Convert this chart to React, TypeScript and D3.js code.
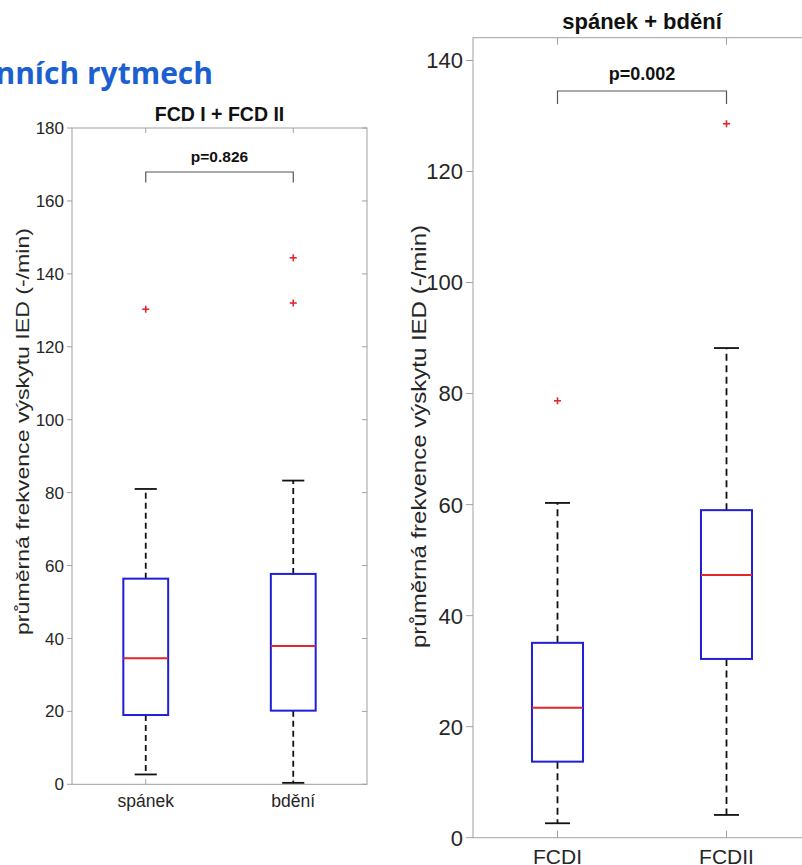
import React from "react";
import * as d3 from "d3";

// ---------- data ----------
const leftCategories = ["spánek", "bdění"];
const leftLowWhisker = [2.7, 0.4];
const leftQ1 = [19.0, 20.2];
const leftMedian = [34.6, 37.9];
const leftQ3 = [56.4, 57.7];
const leftHighWhisker = [81.0, 83.3];
const leftOutliers = [[130.3], [144.4, 132.0]];
const leftTicks = [0, 20, 40, 60, 80, 100, 120, 140, 160, 180];
const leftTitle = "FCD I + FCD II";
const leftP = "p=0.826";

const rightCategories = ["FCDI", "FCDII"];
const rightLowWhisker = [2.6, 4.1];
const rightQ1 = [13.7, 32.2];
const rightMedian = [23.4, 47.3];
const rightQ3 = [35.1, 59.0];
const rightHighWhisker = [60.3, 88.2];
const rightOutliers = [[78.7], [128.6]];
const rightTicks = [0, 20, 40, 60, 80, 100, 120, 140];
const rightTitle = "spánek + bdění";
const rightP = "p=0.002";

const yLabel = "průměrná frekvence výskytu IED (-/min)";
const slideTitle = "nních rytmech";

const FONT = "'Liberation Sans', Arial, Helvetica, sans-serif";

type PanelProps = {
  x0: number; x1: number; yTop: number; yBottom: number; yMax: number;
  cats: string[]; low: number[]; q1: number[]; med: number[]; q3: number[]; high: number[];
  outliers: number[][]; ticks: number[]; title: string; p: string;
  tickFont: number; catFont: number; titleFont: number; pFont: number;
  titleY: number; pY: number; bracketY: number; bracketLeg: number;
  catY: number; labelX: number; labelCenter: number; labelLen: number; labelFont: number;
  tickLen: number; innerTick: number; dash: string; capHalf: number; boxHalf: number;
};

function Panel(pr: PanelProps) {
  const x = d3.scaleLinear().domain([0.5, pr.cats.length + 0.5]).range([pr.x0, pr.x1]);
  const y = d3.scaleLinear().domain([0, pr.yMax]).range([pr.yBottom, pr.yTop]);
  const axisColor = "#a0a0a0";
  const textColor = "#262626";
  const unit = x(1) - x(0);
  const boxW = unit * pr.boxHalf;
  const capW = unit * pr.capHalf;
  return (
    <g>
      {/* box */}
      <rect x={pr.x0} y={pr.yTop} width={pr.x1 - pr.x0} height={pr.yBottom - pr.yTop}
        fill="none" stroke={axisColor} strokeWidth={1} />
      {/* y ticks */}
      {pr.ticks.map((t) => (
        <g key={"t" + t}>
          <line x1={pr.x0 - pr.tickLen} x2={pr.x0} y1={y(t)} y2={y(t)} stroke={axisColor} />
          <line x1={pr.x1 - pr.innerTick} x2={pr.x1} y1={y(t)} y2={y(t)} stroke={axisColor} />
          <text x={pr.x0 - pr.tickLen - 3} y={y(t)} dy="0.36em" textAnchor="end"
            fontFamily={FONT} fontSize={pr.tickFont} fill={textColor}>{t}</text>
        </g>
      ))}
      {/* x ticks */}
      {pr.cats.map((c, i) => (
        <g key={"c" + c}>
          <line x1={x(i + 1)} x2={x(i + 1)} y1={pr.yBottom} y2={pr.yBottom - pr.innerTick} stroke={axisColor} />
          <line x1={x(i + 1)} x2={x(i + 1)} y1={pr.yTop} y2={pr.yTop + pr.innerTick} stroke={axisColor} />
          <text x={x(i + 1)} y={pr.catY} textAnchor="middle" fontFamily={FONT}
            fontSize={pr.catFont} fill={textColor}>{c}</text>
        </g>
      ))}
      {/* boxplots */}
      {pr.cats.map((c, i) => {
        const cx = x(i + 1);
        return (
          <g key={"b" + c}>
            <line x1={cx} x2={cx} y1={y(pr.q3[i])} y2={y(pr.high[i])} stroke="#111"
              strokeWidth={1.8} strokeDasharray={pr.dash} />
            <line x1={cx} x2={cx} y1={y(pr.q1[i])} y2={y(pr.low[i])} stroke="#111"
              strokeWidth={1.8} strokeDasharray={pr.dash} />
            <line x1={cx - capW} x2={cx + capW} y1={y(pr.high[i])} y2={y(pr.high[i])} stroke="#111" strokeWidth={1.8} />
            <line x1={cx - capW} x2={cx + capW} y1={y(pr.low[i])} y2={y(pr.low[i])} stroke="#111" strokeWidth={1.8} />
            <rect x={cx - boxW} y={y(pr.q3[i])} width={2 * boxW} height={y(pr.q1[i]) - y(pr.q3[i])}
              fill="none" stroke="#1f1fd6" strokeWidth={2} />
            <line x1={cx - boxW} x2={cx + boxW} y1={y(pr.med[i])} y2={y(pr.med[i])} stroke="#e2262b" strokeWidth={2} />
            {pr.outliers[i].map((o, k) => (
              <g key={k} stroke="#e2262b" strokeWidth={1.6}>
                <line x1={cx - 3.5} x2={cx + 3.5} y1={y(o)} y2={y(o)} />
                <line x1={cx} x2={cx} y1={y(o) - 3.5} y2={y(o) + 3.5} />
              </g>
            ))}
          </g>
        );
      })}
      {/* significance bracket */}
      <path d={`M${x(1)},${pr.bracketY + pr.bracketLeg}V${pr.bracketY}H${x(2)}V${pr.bracketY + pr.bracketLeg}`}
        fill="none" stroke="#555" strokeWidth={1.2} />
      <text x={(x(1) + x(2)) / 2} y={pr.pY} textAnchor="middle" fontFamily={FONT}
        fontWeight="bold" fontSize={pr.pFont} fill="#111">{pr.p}</text>
      {/* title */}
      <text x={(pr.x0 + pr.x1) / 2} y={pr.titleY} textAnchor="middle" fontFamily={FONT}
        fontWeight="bold" fontSize={pr.titleFont} fill="#111">{pr.title}</text>
      {/* y label */}
      <text transform={`translate(${pr.labelX},${pr.labelCenter}) rotate(-90)`} textAnchor="middle"
        fontFamily={FONT} fontSize={pr.labelFont} fill={textColor}
        textLength={pr.labelLen} lengthAdjust="spacingAndGlyphs">{yLabel}</text>
    </g>
  );
}

export default function App() {
  return (
    <svg width={802} height={865} style={{ position: "absolute", left: 0, top: 0, background: "#fff" }}>
      <rect x={0} y={0} width={802} height={865} fill="#fff" />
      <text x={213} y={84} textAnchor="end" fontFamily="'Open Sans', 'Noto Sans', sans-serif"
        fontWeight={700} fontSize={30} fill="#1c5fd1">{slideTitle}</text>
      <Panel x0={72} x1={367} yTop={128} yBottom={784.3} yMax={180}
        cats={leftCategories} low={leftLowWhisker} q1={leftQ1} med={leftMedian} q3={leftQ3}
        high={leftHighWhisker} outliers={leftOutliers} ticks={leftTicks} title={leftTitle} p={leftP}
        tickFont={17} catFont={17.5} titleFont={19.5} pFont={15.5}
        titleY={121} pY={162} bracketY={172} bracketLeg={10.5}
        catY={807} labelX={29} labelCenter={431.5} labelLen={407} labelFont={18}
        tickLen={5} innerTick={5} dash="6,4" capHalf={0.075} boxHalf={0.152} />
      <Panel x0={473} x1={811} yTop={37.7} yBottom={837.7} yMax={144.1}
        cats={rightCategories} low={rightLowWhisker} q1={rightQ1} med={rightMedian} q3={rightQ3}
        high={rightHighWhisker} outliers={rightOutliers} ticks={rightTicks} title={rightTitle} p={rightP}
        tickFont={22} catFont={21} titleFont={22} pFont={18}
        titleY={29} pY={80} bracketY={91} bracketLeg={13}
        catY={864} labelX={426} labelCenter={436.5} labelLen={423} labelFont={20}
        tickLen={7} innerTick={7} dash="7,4.5" capHalf={0.074} boxHalf={0.151} />
    </svg>
  );
}
